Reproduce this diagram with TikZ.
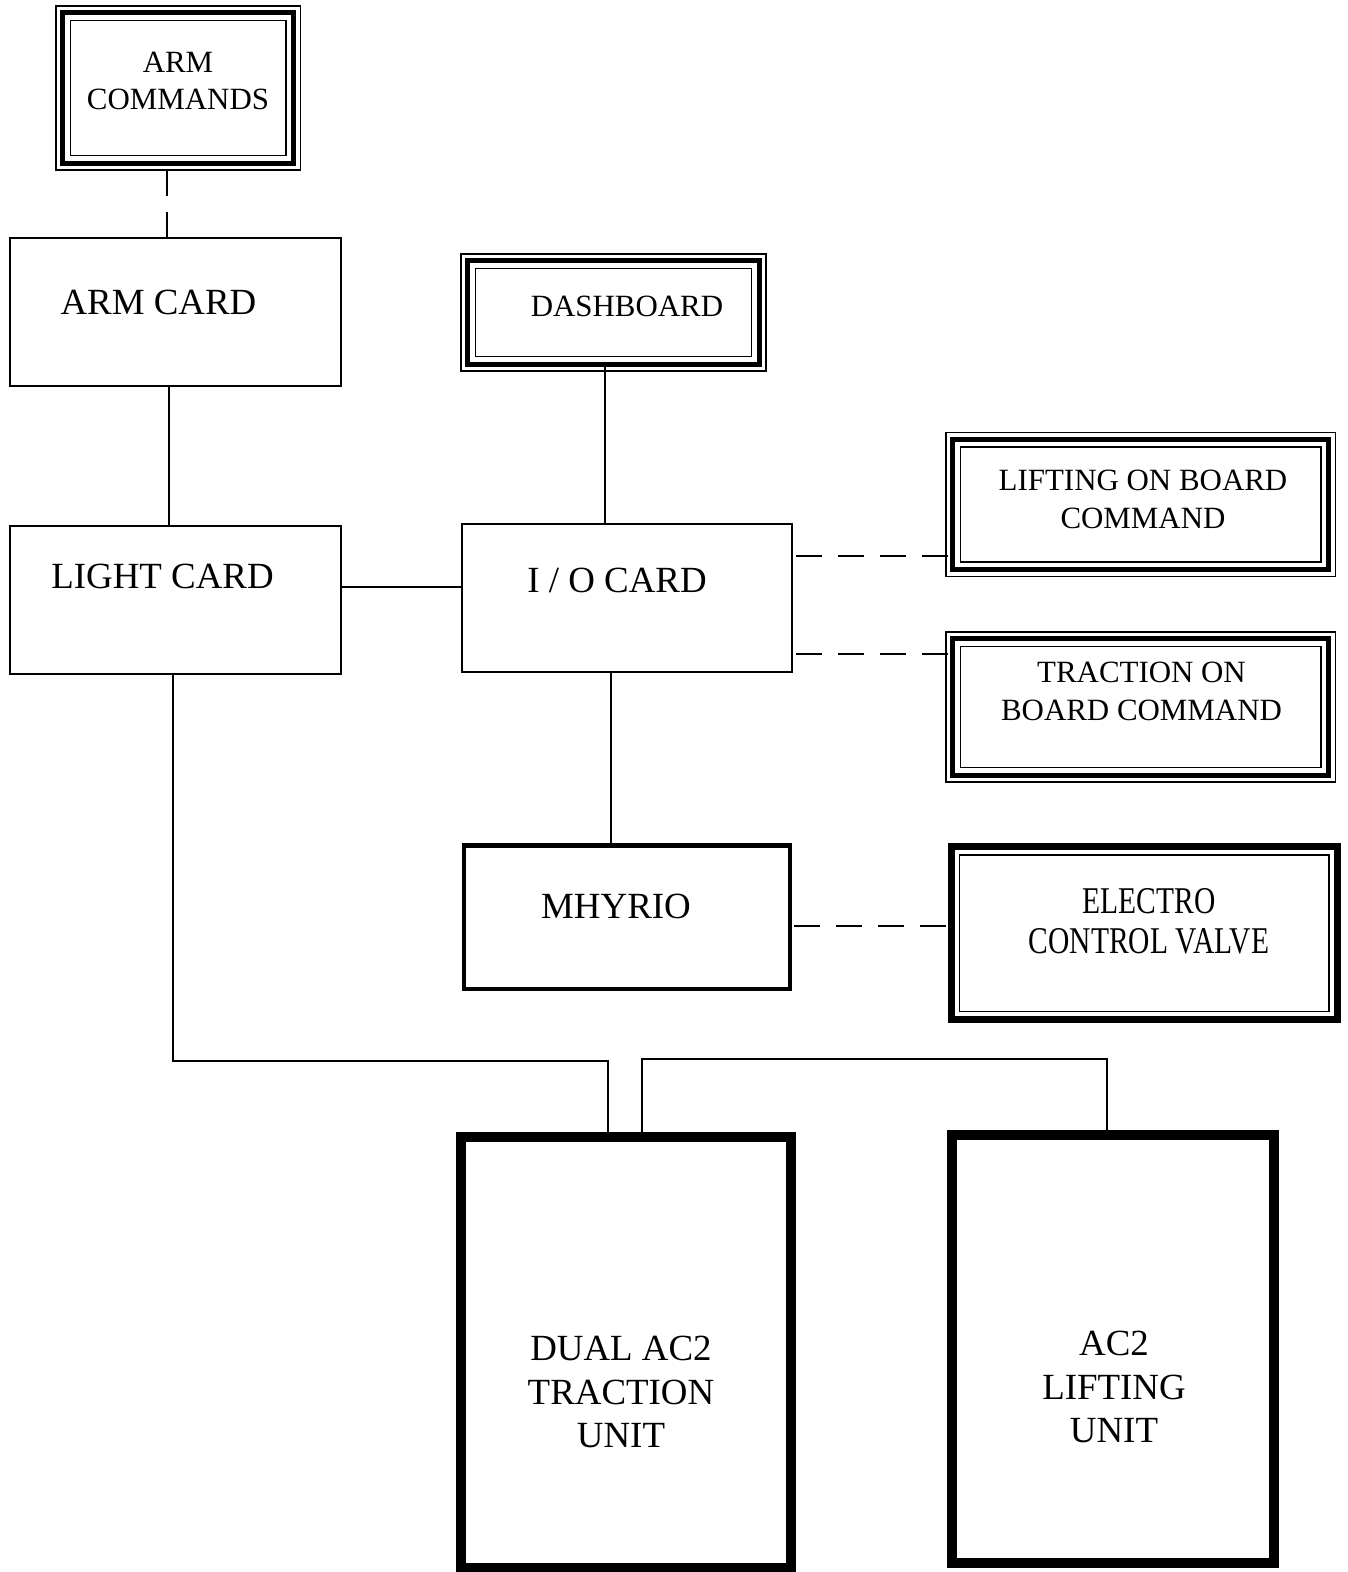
\documentclass[tikz,border=0pt]{standalone}
\usepackage{fontspec}
\setmainfont{Liberation Serif}

\begin{document}
\begin{tikzpicture}[x=0.02cm,y=-0.02cm,
  box/.style={draw,inner sep=0pt,outer sep=0pt},
  card/.style={box,line width=0.046cm},
  framed/.style={box,line width=0.1cm},
  unit/.style={box,line width=0.2cm},
  frameline/.style={line width=0.025cm},
  link/.style={line width=0.04cm},
  dashlink/.style={link,dash pattern=on 0.52cm off 0.32cm,dash phase=0.76cm},
  bigtxt/.style={font=\fontsize{21}{24.6}\selectfont,align=center,inner sep=0pt},
  midtxt/.style={font=\fontsize{17.6}{22}\selectfont,align=center,inner sep=0pt}]
\useasboundingbox (0,0) rectangle (1347,1572);
% boxes
\node[framed,minimum width=4.63cm,minimum height=3.02cm] (armcmd) at (178.25,88) {};
\node[card,minimum width=6.62cm,minimum height=2.96cm] (armcard) at (175.5,312) {};
\node[card,minimum width=6.62cm,minimum height=2.96cm] (lightcard) at (175.5,600) {};
\node[framed,minimum width=5.84cm,minimum height=2.08cm] (dashboard) at (613.5,312.5) {};
\node[card,minimum width=6.6cm,minimum height=2.96cm] (iocard) at (627,598) {};
\node[framed,minimum width=7.53cm,minimum height=2.62cm] (lifting) at (1140.75,504.5) {};
\node[framed,minimum width=7.53cm,minimum height=2.74cm] (traction) at (1140.75,707) {};
\node[box,line width=0.09cm,minimum width=6.52cm,minimum height=2.87cm] (mhyrio) at (627,917.25) {};
\node[box,line width=0.14cm,minimum width=7.73cm,minimum height=3.47cm] (valve) at (1144.25,933.25) {};
\node[unit,minimum width=6.6cm,minimum height=8.62cm] (dual) at (626,1352.5) {};
\node[unit,minimum width=6.45cm,minimum height=8.56cm] (ac2) at (1112.85,1349) {};
% thin frames round the command boxes
\foreach \n in {armcmd,dashboard,lifting,traction}{
  \draw[frameline] ([shift={(-0.13cm,0.13cm)}]\n.north west) rectangle ([shift={(0.13cm,-0.13cm)}]\n.south east);
  \draw[frameline] ([shift={(0.16cm,-0.16cm)}]\n.north west) rectangle ([shift={(-0.16cm,0.16cm)}]\n.south east);
}
\draw[frameline] ([shift={(0.17cm,-0.17cm)}]valve.north west) rectangle ([shift={(-0.17cm,0.17cm)}]valve.south east);
% labels
\node[midtxt,font=\fontsize{17.6}{21}\selectfont] (armcmdtxt) at (178,80.5) {ARM\\COMMANDS};
\node[bigtxt] (armcardtxt) at (158.5,302) {ARM CARD};
\node[bigtxt] (lighttxt) at (162.5,576.5) {LIGHT CARD};
\node[bigtxt,anchor=base] (iotxt) at (617,592) {I / O CARD};
\node[midtxt] (dashtxt) at (627,306) {DASHBOARD};
\node[midtxt] (lifttxt) at (1143,499.5) {LIFTING ON BOARD\\COMMAND};
\node[midtxt] (tractxt) at (1141.5,691.5) {TRACTION ON\\BOARD COMMAND};
\node[bigtxt] (mhtxt) at (616,906) {MHYRIO};
\node[inner sep=0pt,font=\fontsize{16.8}{17.5}\selectfont] (valvetxt) at (1149,925.5) {\scalebox{1}[1.28]{\begin{tabular}{@{}c@{}}ELECTRO\\CONTROL VALVE\end{tabular}}};
\node[bigtxt] (dualtxt) at (621,1392) {DUAL AC2\\TRACTION\\UNIT};
\node[bigtxt] (ac2txt) at (1114,1387) {AC2\\LIFTING\\UNIT};
% tap points
\coordinate (armtap) at (166.7,0);
\coordinate (cardtap) at (169.3,0);
\coordinate (dashtap) at (605,0);
\coordinate (mhtap) at (611,0);
\coordinate (lightrow) at (0,587);
\coordinate (liftrow) at (0,556);
\coordinate (tracrow) at (0,654.3);
\coordinate (valverow) at (0,926);
\coordinate (busa) at (173.3,1060.7);
\coordinate (busb) at (608.3,1060.7);
\coordinate (busc) at (642.3,1059.3);
\coordinate (busd) at (1106.7,1059.3);
% connections
\draw[link,dash pattern=on 0.52cm off 0.32cm] (armcard.north -| armtap) -- (armcmd.south -| armtap);
\draw[link] (armcard.south -| cardtap) -- (lightcard.north -| cardtap);
\draw[link] (lightcard.east |- lightrow) -- (iocard.west |- lightrow);
\draw[link] (dashboard.south -| dashtap) -- (iocard.north -| dashtap);
\draw[link] (iocard.south -| mhtap) -- (mhyrio.north -| mhtap);
\draw[dashlink] (iocard.east |- liftrow) -- (lifting.west |- liftrow);
\draw[dashlink] (iocard.east |- tracrow) -- (traction.west |- tracrow);
\draw[dashlink] (mhyrio.east |- valverow) -- (valve.west |- valverow);
\draw[link] (lightcard.south -| busa) -- (busa) -- (busb) -- (dual.north -| busb);
\draw[link] (dual.north -| busc) -- (busc) -- (busd) -- (ac2.north -| busd);
\end{tikzpicture}
\end{document}
